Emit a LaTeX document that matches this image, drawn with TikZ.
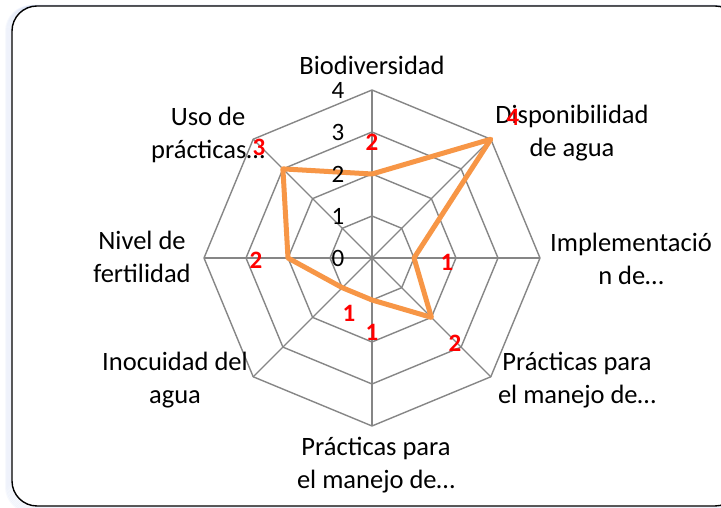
\documentclass[tikz,border=0pt]{standalone}
\usepackage{fontspec}
\setmainfont{Carlito}
\usetikzlibrary{positioning}

\definecolor{gridgray}{RGB}{134,134,134}
\definecolor{radarorange}{RGB}{247,150,70}
\definecolor{glowblue}{RGB}{120,150,220}

\begin{document}
\begin{tikzpicture}[x=1pt, y=1pt, line join=round, inner sep=0pt]
    \tikzstyle{grid}=[draw=gridgray, line width=1.4pt]
    \tikzstyle{series}=[draw=radarorange, line width=5pt]
    \tikzstyle{cat}=[align=center, font=\fontsize{26.5}{33}\selectfont]
    \tikzstyle{tick}=[font=\fontsize{25}{28}\selectfont]
    \tikzstyle{val}=[text=red, font=\fontsize{25}{28}\selectfont\bfseries]

    \useasboundingbox (0,0) rectangle (721,508);

    % frame with its soft shadow
    \foreach \o in {1,...,6}
        \draw[glowblue, opacity=0.06, line width=2pt, rounded corners=25]
            (12-\o,2-\o) rectangle (740,502);
    \draw[fill=white, line width=1.4pt, rounded corners=25] (12,2) rectangle (740,502);

    \begin{scope}[shift={(372,250)}]
        % octagon grid and spokes
        \foreach \r in {1,...,4}
            \draw[grid] (0:42*\r) \foreach \a in {45,90,...,315}{ -- (\a:42*\r)} -- cycle;
        \foreach \a in {0,45,...,315}
            \draw[grid] (0,0) -- (\a:168);

        % data points
        \coordinate (bio)  at (90:84);
        \coordinate (disp) at (45:168);
        \coordinate (impl) at (0:42);
        \coordinate (pmse) at (-45:84);
        \coordinate (pms)  at (-90:42);
        \coordinate (inoc) at (-135:42);
        \coordinate (fert) at (180:84);
        \coordinate (uso)  at (135:126);

        \draw[series] (bio) -- (disp) -- (impl) -- (pmse) -- (pms)
                      -- (inoc) -- (fert) -- (uso) -- cycle;
    \end{scope}

    % axis values
    \foreach \k in {0,...,4}
        \node[tick] (t\k) at (338,250+42*\k) {\k};

    % categories
    \node[cat] (Lbio)  at (372,443)   {Biodiversidad};
    \node[cat] (Ldisp) at (572,374.5) {Disponibilidad\\de agua};
    \node[cat] (Limpl) at (631,249)   {Implementació\\n de…};
    \node[cat] (Lpmse) at (577,128)   {Prácticas para\\el manejo de…};
    \node[cat] (Lpms)  at (376,43)    {Prácticas para\\el manejo de…};
    \node[cat] (Linoc) at (175,128)   {Inocuidad del\\agua};
    \node[cat] (Lfert) at (142,251)   {Nivel de\\fertilidad};
    \node[cat] (Luso)  at (208,373)   {Uso de\\prácticas…};

    % data labels
    \node[val] (vbio)  at (372,366) {2};
    \node[val] (vdisp) at (513,391) {4};
    \node[val] (vimpl) at (447,246) {1};
    \node[val] (vpmse) at (455,165) {2};
    \node[val] (vpms)  at (372,176) {1};
    \node[val] (vinoc) at (349,195) {1};
    \node[val] (vfert) at (256,248) {2};
    \node[val] (vuso)  at (259,361) {3};
\end{tikzpicture}
\end{document}
